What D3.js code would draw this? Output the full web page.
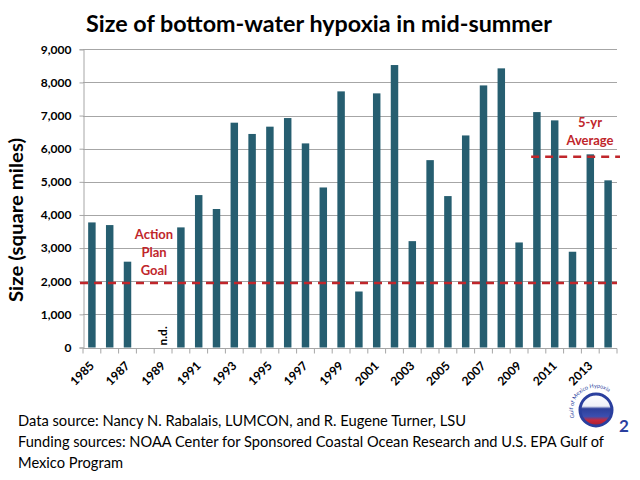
<!DOCTYPE html>
<html>
<head>
<meta charset="utf-8">
<script src="https://cdn.jsdelivr.net/npm/d3@7"></script>
<style>
  body { margin: 0; background: #fff; }
  svg { display: block; font-family: Lato, "Open Sans", sans-serif; }
</style>
</head>
<body>
<div id="chart"></div>
<script>
var width = 640;
var height = 480;

// data (square miles), 1989 has no data
var years = d3.range(1985, 2015).map(String);
var sizes = [3775, 3695, 2590, 0, null, 3625, 4600, 4180, 6785, 6445,
             6665, 6925, 6160, 4830, 7730, 1690, 7670, 8525, 3210, 5655,
             4570, 6400, 7910, 8425, 3170, 7105, 6855, 2890, 5830, 5045];
var yTicks = [0, 1000, 2000, 3000, 4000, 5000, 6000, 7000, 8000, 9000];
var xLabels = years.filter(function(d, i) { return i % 2 == 0; });
var goal = 1950;
var fiveYrAvg = 5760;
var avgStart = "2010";

var barColor = "#265e70";
var red = "#c0262b";

var svg = d3.select('#chart')
    .append('svg')
    .attr('width', width)
    .attr('height', height);

var x = d3.scaleBand().domain(years).range([83, 617])
    .paddingInner(0.58).paddingOuter(0.29);
var y = d3.scaleLinear().domain([0, 9000]).range([347.5, 49.3]);

// title
svg.append('text')
    .attr('x', 86).attr('y', 32)
    .attr('font-size', 23).attr('font-weight', 'bold')
    .attr('textLength', 466).attr('lengthAdjust', 'spacingAndGlyphs')
    .text('Size of bottom-water hypoxia in mid-summer');

// gridlines
svg.append('g')
    .selectAll('line')
    .data(yTicks.slice(1))
    .enter()
    .append('line')
    .attr('x1', 83).attr('x2', 617)
    .attr('y1', d => Math.round(y(d)) + 0.5)
    .attr('y2', d => Math.round(y(d)) + 0.5)
    .attr('stroke', '#a6a6a6');

// y axis
var yAxis = d3.axisLeft(y).tickValues(yTicks).tickSize(4).tickPadding(8)
    .tickFormat(d3.format(','));
var yAxisGroup = svg.append('g')
    .attr('transform', 'translate(83.5,0)')
    .call(yAxis);
yAxisGroup.select('.domain').attr('stroke', '#a6a6a6');
yAxisGroup.selectAll('.tick line').attr('stroke', '#a6a6a6');
yAxisGroup.selectAll('.tick text')
    .attr('font-size', 12).attr('font-weight', 'bold')
    .attr('font-family', 'Lato, sans-serif').attr('fill', '#000');

svg.append('text')
    .attr('transform', 'translate(23,220) rotate(-90)')
    .attr('text-anchor', 'middle')
    .attr('font-size', 19).attr('font-weight', 'bold')
    .attr('textLength', 164).attr('lengthAdjust', 'spacingAndGlyphs')
    .text('Size (square miles)');

// bars
svg.selectAll('.bar')
    .data(years.map((d, i) => ({ year: d, value: sizes[i] })).filter(d => d.value != null))
    .enter()
    .append('rect')
    .attr('class', 'bar')
    .attr('x', d => x(d.year))
    .attr('width', x.bandwidth())
    .attr('y', d => y(d.value))
    .attr('height', d => y(0) - y(d.value))
    .attr('fill', barColor);

// x axis baseline and ticks between categories
var baseY = Math.round(y(0)) + 0.5;
svg.append('line')
    .attr('x1', 83).attr('x2', 617)
    .attr('y1', baseY).attr('y2', baseY)
    .attr('stroke', '#a6a6a6');
svg.append('g')
    .selectAll('line')
    .data(d3.range(years.length + 1))
    .enter()
    .append('line')
    .attr('x1', i => x.range()[0] + i * x.step())
    .attr('x2', i => x.range()[0] + i * x.step())
    .attr('y1', baseY).attr('y2', baseY + 5)
    .attr('stroke', '#a6a6a6');

// year labels, every other year, slanted
var labelG = svg.append('g')
    .selectAll('g')
    .data(xLabels)
    .enter()
    .append('g')
    .attr('transform', d => 'translate(' + (x(d) + x.bandwidth() / 2 + 3) + ',' + (baseY + 18) + ')');
labelG.append('text')
    .attr('transform', 'rotate(-45)')
    .attr('text-anchor', 'end')
    .attr('font-size', 12).attr('font-weight', 'bold')
    .text(d => d);

// n.d. marker for missing year
var missing = years.filter((d, i) => sizes[i] == null);
var ndG = svg.selectAll('.nd')
    .data(missing)
    .enter()
    .append('g')
    .attr('class', 'nd')
    .attr('transform', d => 'translate(' + (x(d) + x.bandwidth() / 2 + 4) + ',' + (y(0) - 2) + ')');
ndG.append('text')
    .attr('transform', 'rotate(-90)')
    .attr('font-size', 12).attr('font-weight', 'bold')
    .text('n.d.');

// goal and 5-yr average lines
svg.append('line')
    .attr('x1', 80).attr('x2', 617)
    .attr('y1', y(goal)).attr('y2', y(goal))
    .attr('stroke', red).attr('stroke-width', 2.5)
    .attr('stroke-dasharray', '8,6');
svg.append('line')
    .attr('x1', x(avgStart) - 2).attr('x2', 620)
    .attr('y1', y(fiveYrAvg)).attr('y2', y(fiveYrAvg))
    .attr('stroke', red).attr('stroke-width', 2.5)
    .attr('stroke-dasharray', '8,6');

svg.append('text')
    .attr('text-anchor', 'middle').attr('fill', red)
    .attr('font-size', 13).attr('font-weight', 'bold')
    .selectAll('tspan')
    .data(['Action', 'Plan', 'Goal'])
    .enter()
    .append('tspan')
    .attr('x', 154).attr('y', (d, i) => 239 + i * 18)
    .text(d => d);

svg.append('text')
    .attr('text-anchor', 'middle').attr('fill', red)
    .attr('font-size', 13).attr('font-weight', 'bold')
    .selectAll('tspan')
    .data(['5-yr', 'Average'])
    .enter()
    .append('tspan')
    .attr('x', 590).attr('y', (d, i) => 127 + i * 18)
    .text(d => d);

// footer
var notes = [
  'Data source: Nancy N. Rabalais, LUMCON, and R. Eugene Turner, LSU',
  'Funding sources: NOAA Center for Sponsored Coastal Ocean Research and U.S. EPA Gulf of',
  'Mexico Program'
];
var noteWidths = [448, 586, 105];
svg.append('g')
    .selectAll('text')
    .data(notes)
    .enter()
    .append('text')
    .attr('x', 18).attr('y', (d, i) => 426 + i * 21)
    .attr('font-size', 15)
    .attr('textLength', (d, i) => noteWidths[i]).attr('lengthAdjust', 'spacingAndGlyphs')
    .text(d => d);

// logo
var logo = svg.append('g').attr('transform', 'translate(596,410)');
var defs = svg.append('defs');
var grad = defs.append('linearGradient').attr('id', 'logoGrad')
    .attr('x1', 0).attr('x2', 0).attr('y1', 0).attr('y2', 1);
grad.append('stop').attr('offset', '0%').attr('stop-color', '#ffffff');
grad.append('stop').attr('offset', '38%').attr('stop-color', '#eef0f8');
grad.append('stop').attr('offset', '46%').attr('stop-color', '#2d3f9a');
grad.append('stop').attr('offset', '70%').attr('stop-color', '#3b4fb0');
grad.append('stop').attr('offset', '82%').attr('stop-color', '#c8283a');
grad.append('stop').attr('offset', '100%').attr('stop-color', '#a51e30');
logo.append('circle').attr('r', 16).attr('fill', 'url(#logoGrad)');
logo.append('circle').attr('r', 16).attr('fill', 'none')
    .attr('stroke', '#2a3f9e').attr('stroke-width', 3);
defs.append('path').attr('id', 'logoArc')
    .attr('d', 'M -21 9 A 22 22 0 1 1 20 -9');
logo.append('text')
    .attr('font-size', 5.5).attr('fill', '#2a3f9e')
    .append('textPath').attr('href', '#logoArc').attr('startOffset', '2%')
    .text('Gulf of Mexico Hypoxia');
logo.append('text')
    .attr('x', 23).attr('y', 22)
    .attr('font-size', 17).attr('font-weight', 'bold').attr('fill', '#2a3f9e')
    .text('2');
</script>
</body>
</html>
